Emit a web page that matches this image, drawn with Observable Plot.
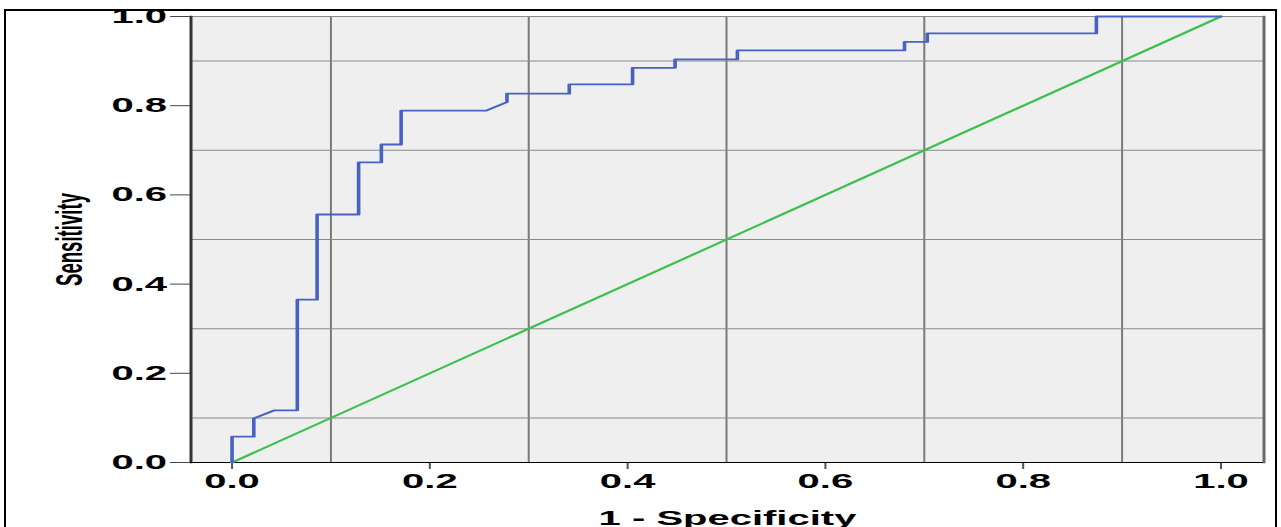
<!DOCTYPE html>
<html><head><meta charset="utf-8">
<script src="https://cdn.jsdelivr.net/npm/d3@7"></script>
<script src="https://cdn.jsdelivr.net/npm/@observablehq/plot@0.6"></script>
<style>
html,body{margin:0;padding:0;background:#fff;overflow:hidden;width:1281px;height:527px;}
#frame{position:absolute;left:4px;top:9px;width:1273px;height:600px;border:2px solid #000;box-sizing:border-box;}
#chart{position:absolute;left:0;top:0;transform:scaleX(2);transform-origin:0 0;}
</style></head><body>
<div id="frame"></div>
<div id="chart"></div>
<script>
// ROC curve: 1 - Specificity (false positive rate) vs Sensitivity
const fpr = [0, 0, 0.022, 0.022, 0.043, 0.066, 0.066, 0.086, 0.086, 0.128, 0.128, 0.151, 0.151, 0.171, 0.171, 0.257, 0.278, 0.278, 0.341, 0.341, 0.405, 0.405, 0.448, 0.448, 0.511, 0.511, 0.680, 0.680, 0.703, 0.703, 0.874, 0.874, 1.0];
const tpr = [0, 0.058, 0.058, 0.099, 0.117, 0.117, 0.365, 0.365, 0.556, 0.556, 0.673, 0.673, 0.713, 0.713, 0.789, 0.789, 0.808, 0.827, 0.827, 0.848, 0.848, 0.885, 0.885, 0.904, 0.904, 0.924, 0.924, 0.943, 0.943, 0.962, 0.962, 1.0, 1.0];
const refX = [0, 1];
const refY = [0, 1];
const xTicks = [0, 0.2, 0.4, 0.6, 0.8, 1.0];
const yTicks = [0, 0.2, 0.4, 0.6, 0.8, 1.0];
const gridTicks = [0.1, 0.3, 0.5, 0.7, 0.9];
const xTitle = "1 - Specificity";
const yTitle = "Sensitivity";

const curve = fpr.map((x, i) => ({x, y: tpr[i]}));
const diag = refX.map((x, i) => ({x, y: refY[i]}));
const fmt = d3.format(".1f");

const chart = Plot.plot({
  width: 640,
  height: 527,
  marginLeft: 95,
  marginRight: 8.5,
  marginTop: 16,
  marginBottom: 65,
  style: {fontFamily: "'Liberation Sans', Arial, sans-serif", fontSize: "20px", fontWeight: "bold", color: "#000", background: "transparent", overflow: "visible"},
  x: {domain: [-0.0415, 1.0435]},
  y: {domain: [0, 1]},
  marks: [
    Plot.frame({fill: "#efefef", stroke: null}),
    Plot.gridX(gridTicks, {stroke: "#7a7a7a", strokeOpacity: 1, strokeWidth: 1}),
    Plot.gridY([...gridTicks, 1], {stroke: "#8a8a8a", strokeOpacity: 1, strokeWidth: 1}),
    Plot.frame({anchor: "left", stroke: "#333", strokeWidth: 1.5}),
    Plot.frame({anchor: "right", stroke: "#6a6a6a", strokeWidth: 1.5}),
    Plot.axisY(yTicks, {tickSize: 10, tickPadding: 2, tickFormat: fmt, stroke: "#444", label: null, fontSize: 20}),
    Plot.text([yTitle], {frameAnchor: "left", dx: -60.5, rotate: -90, textAnchor: "middle", lineAnchor: "middle", fontSize: 18.6, fontWeight: "bold", fill: "#000"}),
    Plot.axisX(xTicks, {tickSize: 7, tickPadding: 4, tickFormat: fmt, stroke: "#555", label: xTitle, labelAnchor: "center", labelOffset: 62, labelArrow: "none", fontSize: 20}),
    Plot.ruleY([0], {stroke: "#000", strokeWidth: 1.2}),
    Plot.line(diag, {x: "x", y: "y", stroke: "#3cc04e", strokeWidth: 1.8}),
    Plot.line(curve, {x: "x", y: "y", stroke: "#4762c2", strokeWidth: 1.8})
  ]
});
document.getElementById("chart").appendChild(chart);
</script>
</body></html>
